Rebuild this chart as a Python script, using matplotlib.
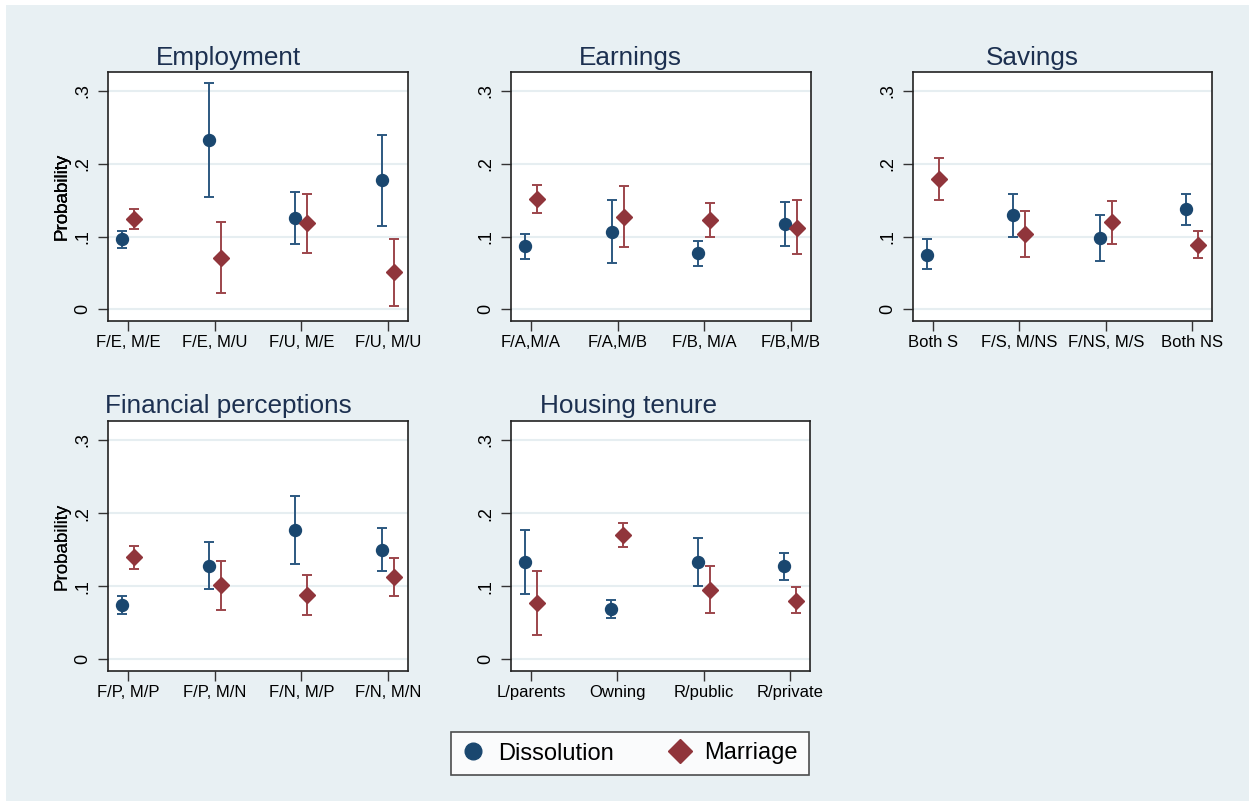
import numpy as np
import matplotlib
matplotlib.use("Agg")
import matplotlib.pyplot as plt
from matplotlib.patches import Rectangle
from matplotlib.lines import Line2D

plt.rcParams['font.family'] = ['Liberation Sans', 'DejaVu Sans']

# panel titles and category labels
titles = ["Employment", "Earnings", "Savings",
          "Financial perceptions", "Housing tenure"]
categories = [
    ["F/E, M/E", "F/E, M/U", "F/U, M/E", "F/U, M/U"],
    ["F/A,M/A", "F/A,M/B", "F/B, M/A", "F/B,M/B"],
    ["Both S", "F/S, M/NS", "F/NS, M/S", "Both NS"],
    ["F/P, M/P", "F/P, M/N", "F/N, M/P", "F/N, M/N"],
    ["L/parents", "Owning", "R/public", "R/private"],
]

# dissolution: point estimate and confidence bounds
diss_est = [[0.096, 0.233, 0.125, 0.177],
            [0.087, 0.106, 0.077, 0.117],
            [0.075, 0.129, 0.098, 0.138],
            [0.074, 0.128, 0.177, 0.150],
            [0.133, 0.069, 0.133, 0.127]]
diss_lo = [[0.084, 0.155, 0.090, 0.115],
           [0.069, 0.064, 0.059, 0.087],
           [0.055, 0.099, 0.067, 0.116],
           [0.062, 0.096, 0.131, 0.121],
           [0.090, 0.057, 0.100, 0.108]]
diss_hi = [[0.107, 0.311, 0.161, 0.239],
           [0.104, 0.150, 0.094, 0.147],
           [0.097, 0.158, 0.130, 0.159],
           [0.086, 0.160, 0.223, 0.179],
           [0.177, 0.081, 0.166, 0.146]]

# marriage: point estimate and confidence bounds
mar_est = [[0.124, 0.071, 0.118, 0.051],
           [0.151, 0.127, 0.123, 0.112],
           [0.179, 0.103, 0.120, 0.089],
           [0.140, 0.101, 0.088, 0.112],
           [0.077, 0.170, 0.095, 0.080]]
mar_lo = [[0.110, 0.023, 0.078, 0.004],
          [0.132, 0.085, 0.099, 0.076],
          [0.150, 0.072, 0.090, 0.070],
          [0.123, 0.067, 0.061, 0.086],
          [0.033, 0.153, 0.064, 0.063]]
mar_hi = [[0.138, 0.120, 0.158, 0.097],
          [0.171, 0.170, 0.146, 0.150],
          [0.208, 0.135, 0.149, 0.107],
          [0.155, 0.135, 0.115, 0.138],
          [0.121, 0.187, 0.127, 0.099]]

W, H = 1249, 801
navy = "#1a476f"
maroon = "#90353b"
navy_bar = "#2c5880"
maroon_bar = "#9c454b"
bg = "#e8f0f3"

fig = plt.figure(figsize=(W / 100, H / 100), dpi=100)
fig.patch.set_facecolor("white")
fig.patches.append(Rectangle((6 / W, 0), 1 - 6 / W, 1 - 5 / H,
                             transform=fig.transFigure, facecolor=bg,
                             edgecolor="none", zorder=-10))

# axes boxes in pixels: left, right, top, bottom
boxes = [(108, 408, 72, 321), (511, 811, 72, 321), (913, 1212, 72, 321),
         (108, 408, 421, 671), (511, 810, 421, 671)]
title_x = [228, 630, 1032, 228, 629]
title_y = [65, 65, 65, 413, 413]

x = np.arange(1, 5)
for i in range(5):
    l, r, t, b = boxes[i]
    ax = fig.add_axes([l / W, 1 - b / H, (r - l) / W, (b - t) / H])
    ax.set_facecolor("white")
    for y in [0, 0.1, 0.2, 0.3]:
        ax.axhline(y, color="#e6eef1", lw=1.5, zorder=0)
    d = np.array(diss_est[i])
    m = np.array(mar_est[i])
    ax.errorbar(x - 0.07, d,
                yerr=[d - np.array(diss_lo[i]), np.array(diss_hi[i]) - d],
                fmt="o", color=navy, ms=8.6, elinewidth=1.4, capsize=3.8,
                capthick=1.4, ecolor=navy_bar, zorder=3)
    ax.errorbar(x + 0.07, m,
                yerr=[m - np.array(mar_lo[i]), np.array(mar_hi[i]) - m],
                fmt="D", color=maroon, ms=8.3, elinewidth=1.4, capsize=3.8,
                capthick=1.4, ecolor=maroon_bar, zorder=3)
    ax.set_xlim(0.77, 4.23)
    ax.set_ylim(-0.016, 0.326)
    ax.set_xticks(x)
    ax.set_xticklabels(categories[i], fontsize=12)
    ax.set_yticks([0, 0.1, 0.2, 0.3])
    ax.set_yticklabels(["0", ".1", ".2", ".3"], fontsize=13, rotation=90,
                       va="center")
    ax.tick_params(axis="both", direction="out", length=7, width=1,
                   color="#333333", pad=3)
    ax.tick_params(axis="y", pad=5)
    for s in ax.spines.values():
        s.set_color("#222222")
        s.set_linewidth(1.2)
    ax.set_ylabel("Probability", fontsize=13.5, va="center")
    ax.yaxis.set_label_coords(-(l - 62) / (r - l), 0.5)
    fig.text(title_x[i] / W, 1 - title_y[i] / H, titles[i], fontsize=18.8,
             color="#1c3050", ha="center", va="baseline")

handles = [Line2D([], [], ls="none", marker="o", color=navy, ms=12),
           Line2D([], [], ls="none", marker="D", color=maroon, ms=12)]
leg = fig.legend(handles, ["Dissolution", "Marriage"], loc="center",
                 bbox_to_anchor=(629.5 / W, 1 - 753.5 / H), ncol=2,
                 fontsize=17, frameon=True, fancybox=False,
                 handlelength=1.0, handletextpad=0.55, columnspacing=2.3,
                 borderpad=0.45)
leg.get_frame().set_edgecolor("#222222")
leg.get_frame().set_linewidth(1.2)

fig.savefig("out.png", dpi=100)
